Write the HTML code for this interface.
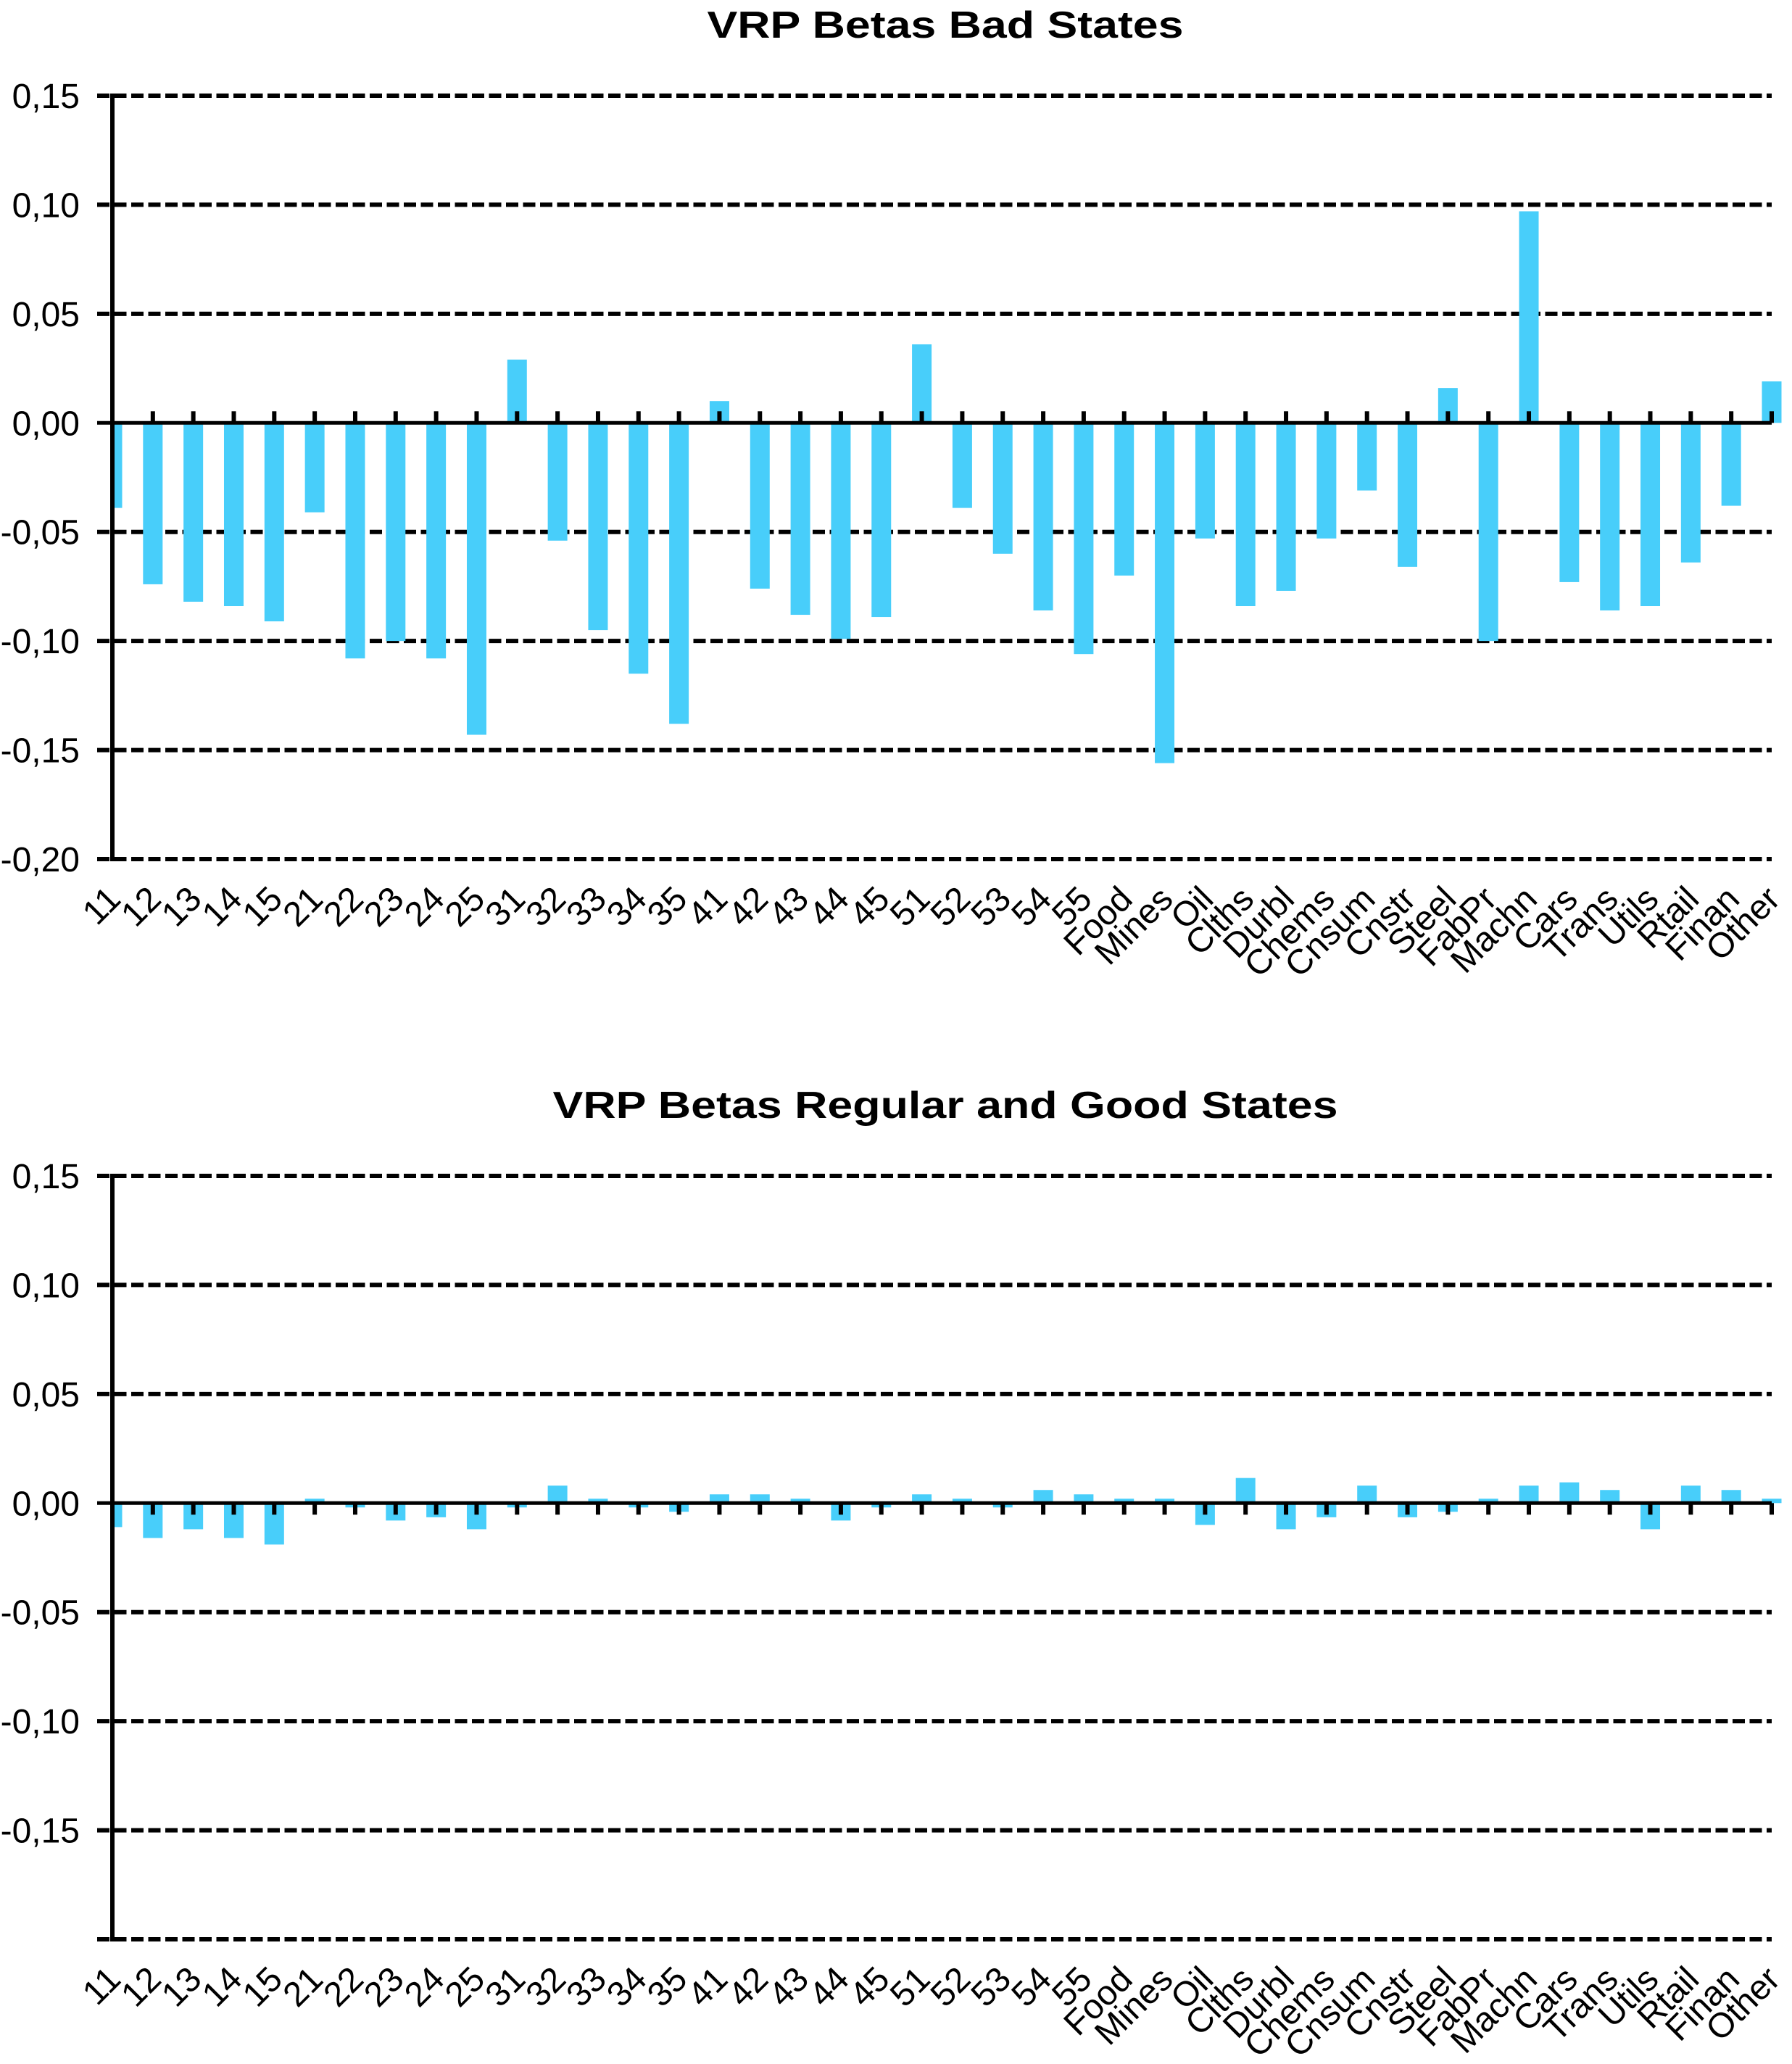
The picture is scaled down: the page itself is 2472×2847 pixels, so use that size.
<!DOCTYPE html>
<html><head><meta charset="utf-8"><style>
html,body{margin:0;padding:0;background:#fff;}
svg{display:block;font-family:"Liberation Sans",Arial,sans-serif;}
</style></head><body>
<svg id="chart" width="2472" height="2847" viewBox="0 0 2472 2847" xmlns="http://www.w3.org/2000/svg">
<rect width="2472" height="2847" fill="#fff"/>
</svg>
<script>
const categories = ["11","12","13","14","15","21","22","23","24","25","31","32","33","34","35","41","42","43","44","45","51","52","53","54","55","Food","Mines","Oil","Clths","Durbl","Chems","Cnsum","Cnstr","Steel","FabPr","Machn","Cars","Trans","Utils","Rtail","Finan","Other"];
const badValues = [-0.039,-0.074,-0.082,-0.084,-0.091,-0.041,-0.108,-0.100,-0.108,-0.143,0.029,-0.054,-0.095,-0.115,-0.138,0.010,-0.076,-0.088,-0.099,-0.089,0.036,-0.039,-0.060,-0.086,-0.106,-0.070,-0.156,-0.053,-0.084,-0.077,-0.053,-0.031,-0.066,0.016,-0.100,0.097,-0.073,-0.086,-0.084,-0.064,-0.038,0.019];
const goodValues = [-0.011,-0.016,-0.012,-0.016,-0.019,0.002,-0.002,-0.008,-0.0065,-0.012,-0.002,0.008,0.002,-0.002,-0.004,0.004,0.004,0.002,-0.008,-0.002,0.004,0.002,-0.002,0.006,0.004,0.002,0.002,-0.010,0.0115,-0.012,-0.0065,0.008,-0.0065,-0.004,0.002,0.008,0.0095,0.006,-0.012,0.008,0.006,0.002];
const yTicks = [0.15,0.10,0.05,0.00,-0.05,-0.10,-0.15,-0.20];
const yTickLabelsTop = ["0,15","0,10","0,05","0,00","-0,05","-0,10","-0,15","-0,20"];
const yTickLabelsBottom = ["0,15","0,10","0,05","0,00","-0,05","-0,10","-0,15",""];

const NS = "http://www.w3.org/2000/svg";
const svg = document.getElementById('chart');
function mk(tag, attrs, parent){
  const e = document.createElementNS(NS, tag);
  for (const k in attrs) e.setAttribute(k, attrs[k]);
  (parent||svg).appendChild(e);
  return e;
}
const X0 = 155, XEND = 2444;
function xPos(i){ return X0 + i*(XEND-X0)/(categories.length-1); }

function drawChart(cfg){
  const g = mk('g', {});
  
  
  const top = cfg.top, bottom = cfg.top + 1053;
  function yPos(v){ return top + (0.15 - v) / 0.35 * (bottom - top); }
  const t = mk('text', {x:1304, y:top-80, 'text-anchor':'middle', 'font-size':52, 'font-weight':'bold', textLength:cfg.titleW, lengthAdjust:'spacingAndGlyphs'}, g);
  t.textContent = cfg.title;
  
  
  yTicks.forEach((v,k)=>{
    const y = yPos(v);
    if (v !== 0) {
      const l = mk('line', {x1:134, x2:XEND, y1:y, y2:y, stroke:'#000', 'stroke-width':6, 'stroke-dasharray':'17 6.5'}, g);
      
      
    }
    const lab = cfg.labels[k];
    if (lab) {
      const tx = mk('text', {x:110, y:y+17, 'text-anchor':'end', 'font-size':48}, g);
      tx.textContent = lab;
      
      
    }
  });
  const y0 = yPos(0);
  cfg.values.forEach((v,i)=>{
    const cx = xPos(i);
    let x1 = cx - 13.5, x2 = cx + 13.5;
    if (x1 < X0) x1 = X0;
    const yv = yPos(v);
    const r = mk('rect', {x:x1, y:Math.min(yv,y0), width:x2-x1, height:Math.abs(yv-y0), fill:'#48CEFA'}, g);
    
    
  });
  const z = mk('line', {x1:134, x2:XEND, y1:y0, y2:y0, stroke:'#000', 'stroke-width':5}, g);
  
  
  categories.forEach((c,i)=>{
    const cx = xPos(i);
    const tk = mk('line', {x1:cx, x2:cx, y1:y0, y2:y0 + cfg.tickDir*16, stroke:'#000', 'stroke-width':6}, g);
    
    
    const lx = cx + 14, ly = bottom + 58;
    const tx = mk('text', {x:lx, y:ly, 'text-anchor':'end', 'font-size':48, transform:'rotate(-45 '+lx+' '+ly+')'}, g);
    tx.textContent = c;
    
    
  });
  const ax = mk('line', {x1:X0, x2:X0, y1:top-3, y2:bottom+3, stroke:'#000', 'stroke-width':6}, g);
  
  
}
drawChart({name:'bad-states-chart', title:'VRP Betas Bad States', titleW:657, top:132, values:badValues, labels:yTickLabelsTop, tickDir:-1});
drawChart({name:'regular-good-states-chart', title:'VRP Betas Regular and Good States', titleW:1083, top:1622, values:goodValues, labels:yTickLabelsBottom, tickDir:1});
</script>
</body></html>
